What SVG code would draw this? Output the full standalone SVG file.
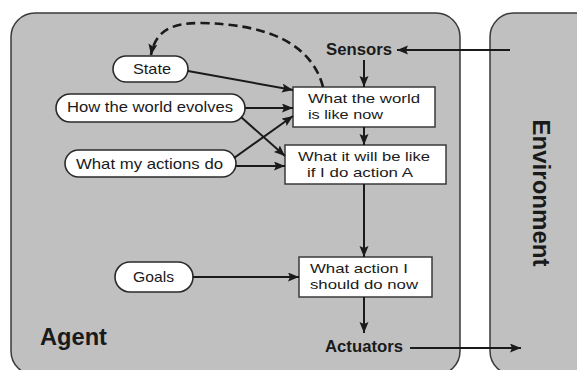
<svg xmlns="http://www.w3.org/2000/svg" width="577" height="370" viewBox="0 0 577 370">
  <style>
    .panel { fill: #c0c0c0; stroke: #3a3a3a; stroke-width: 1.5; }
    .oval { fill: #ffffff; stroke: #2a2a2a; stroke-width: 1.6; }
    .box { fill: #ffffff; stroke: #3a3a3a; stroke-width: 1.5; }
    .t { font-family: "Liberation Sans", Arial, Helvetica, sans-serif; fill: #1a1a1a; font-size: 15px; }
    .bt { font-family: "Liberation Sans", Arial, Helvetica, sans-serif; fill: #1a1a1a; font-size: 13.5px; }
    .b { font-family: "Liberation Sans", Arial, Helvetica, sans-serif; fill: #1a1a1a; font-weight: bold; }
    .edge { fill: none; stroke: #1a1a1a; stroke-width: 2; marker-end: url(#arrow); }
    .dash { fill: none; stroke: #1a1a1a; stroke-width: 2.6; stroke-dasharray: 9 5; marker-end: url(#arrow); }
  </style>
  <defs>
    <marker id="arrow" markerUnits="userSpaceOnUse" markerWidth="12" markerHeight="10" refX="11" refY="4.5" orient="auto">
      <path d="M0,0 L11,4.5 L0,9 L2,4.5 Z" fill="#1a1a1a"/>
    </marker>
  </defs>

  <rect width="577" height="370" fill="#ffffff"/>

  <!-- agent and environment panels -->
  <g id="agent">
    <rect class="panel" x="11" y="13" width="449" height="362" rx="24" ry="24"/>
    <text class="b" x="40" y="345" font-size="23" textLength="67" lengthAdjust="spacingAndGlyphs">Agent</text>
  </g>
  <g id="environment">
    <rect class="panel" x="490" y="13" width="110" height="362" rx="24" ry="24"/>
    <text class="b" x="533" y="193" font-size="24" text-anchor="middle" transform="rotate(90 533 193)" textLength="147" lengthAdjust="spacingAndGlyphs">Environment</text>
  </g>

  <g id="sensors">
    <text class="b" x="326" y="55" font-size="16" textLength="66" lengthAdjust="spacingAndGlyphs">Sensors</text>
  </g>
  <g id="actuators">
    <text class="b" x="325" y="352" font-size="16" textLength="78" lengthAdjust="spacingAndGlyphs">Actuators</text>
  </g>

  <!-- knowledge ovals -->
  <g id="state">
    <rect class="oval" x="113" y="56" width="75" height="26" rx="13" ry="13"/>
    <text class="t" x="152" y="74" text-anchor="middle" textLength="38" lengthAdjust="spacingAndGlyphs">State</text>
  </g>
  <g id="world-evolves">
    <rect class="oval" x="56" y="94" width="189" height="28" rx="14" ry="14"/>
    <text class="t" x="67" y="112" textLength="166" lengthAdjust="spacingAndGlyphs">How the world evolves</text>
  </g>
  <g id="actions-do">
    <rect class="oval" x="65" y="150" width="171" height="27" rx="13.5" ry="13.5"/>
    <text class="t" x="76" y="169" textLength="147" lengthAdjust="spacingAndGlyphs">What my actions do</text>
  </g>
  <g id="goals">
    <rect class="oval" x="115" y="262" width="78" height="30" rx="15" ry="15"/>
    <text class="t" x="133" y="282" font-size="14" textLength="41" lengthAdjust="spacingAndGlyphs">Goals</text>
  </g>

  <!-- reasoning boxes -->
  <g id="world-now">
    <rect class="box" x="293" y="87" width="142" height="40"/>
    <text class="bt" x="308" y="103" textLength="112" lengthAdjust="spacingAndGlyphs">What the world</text>
    <text class="bt" x="308" y="119" textLength="75" lengthAdjust="spacingAndGlyphs">is like now</text>
  </g>
  <g id="will-be">
    <rect class="box" x="285" y="145" width="161" height="39"/>
    <text class="bt" x="298" y="161" textLength="132" lengthAdjust="spacingAndGlyphs">What it will be like</text>
    <text class="bt" x="307" y="177" textLength="106" lengthAdjust="spacingAndGlyphs">if I do action A</text>
  </g>
  <g id="action-now">
    <rect class="box" x="299" y="257" width="133" height="40"/>
    <text class="bt" x="310" y="273" textLength="98" lengthAdjust="spacingAndGlyphs">What action I</text>
    <text class="bt" x="310" y="289" textLength="108" lengthAdjust="spacingAndGlyphs">should do now</text>
  </g>

  <!-- connectors -->
  <g id="connectors">
    <line class="edge" x1="510" y1="50" x2="397" y2="50"/>
    <line class="edge" x1="364" y1="60" x2="364" y2="87"/>
    <line class="edge" x1="364" y1="127" x2="364" y2="145"/>
    <line class="edge" x1="364" y1="184" x2="364" y2="257"/>
    <line class="edge" x1="364" y1="297" x2="364" y2="333"/>
    <line class="edge" x1="410" y1="348" x2="521" y2="348"/>
    <line class="edge" x1="188" y1="71" x2="293" y2="90"/>
    <line class="edge" x1="245" y1="108" x2="293" y2="108"/>
    <line class="edge" x1="241" y1="117" x2="285" y2="156"/>
    <line class="edge" x1="234" y1="158" x2="293" y2="116"/>
    <line class="edge" x1="236" y1="166" x2="285" y2="166"/>
    <line class="edge" x1="193" y1="277" x2="299" y2="277"/>
    <path class="dash" d="M323,87 C312,45 270,24 200,23 C170,23 155,32 151,55"/>
  </g>
</svg>
